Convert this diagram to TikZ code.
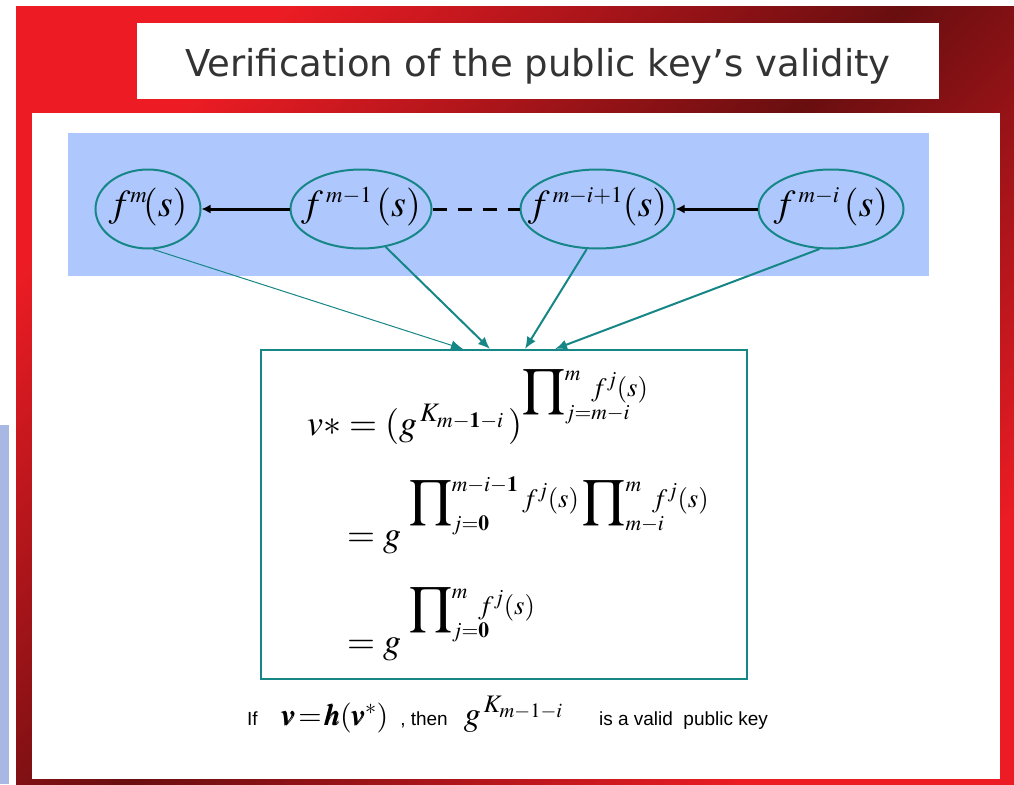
\documentclass[tikz,border=0pt]{standalone}
\usepackage{amsmath}
\usepackage{mathptmx}
\usepackage{mathtools}
\usepackage[no-math]{fontspec}
\newfontfamily\titlefont{DejaVu Sans}
\newfontfamily\notefont{Liberation Sans}
\usepackage{xcolor}
\usetikzlibrary{shapes.geometric,positioning,arrows.meta,calc}

\definecolor{frRed}{RGB}{237,28,36}
\definecolor{frDark}{RGB}{105,14,16}
\definecolor{bandblue}{RGB}{174,200,254}
\definecolor{sidelilac}{RGB}{168,184,226}
\definecolor{keyteal}{RGB}{22,134,134}
\definecolor{titlegray}{RGB}{51,51,51}

\newcommand{\ftext}[1]{\makebox[0pt]{\raisebox{-7pt}[0pt][0pt]{$#1$}}}
\newcommand{\pexp}[1]{\raisebox{34pt}{$\displaystyle#1$}}
\newcommand{\lsub}[1]{\mathrlap{\raisebox{-4pt}{$\scriptscriptstyle#1$}}}
\newcommand{\lims}[2]{\nolimits_{\lsub{#1}}^{\mathrlap{\scriptscriptstyle#2}}\hspace{22pt}}
\newcommand{\fjs}{\raisebox{5pt}{$\scriptstyle f^{j}(s)$}}

\tikzset{
  fnode/.style={ellipse, draw=keyteal, line width=2pt, inner sep=0pt,
    minimum height=79pt, font=\fontsize{38}{40}\selectfont},
  eqline/.style={anchor=base west, inner sep=0pt, font=\fontsize{36}{40}\selectfont},
  chainarrow/.style={-{Latex[length=9pt,width=9pt]}, line width=3pt},
  feed/.style={-{Latex[length=12pt,width=10pt]}, draw=keyteal, line width=2pt},
}

\begin{document}
\begin{tikzpicture}[x=1pt,y=-1pt]
\useasboundingbox (0,0) rectangle (1014,784);
% frame
\fill[white] (0,0) rectangle (1014,784);
\fill[sidelilac] (0,425) rectangle (9,784);
\shade[top color=frRed, bottom color=frRed, middle color=frDark, shading angle=45]
  (16,7) rectangle (1014,784);
\fill[white] (137,23) rectangle (939,99);
\fill[white] (32,113) rectangle (1000,779);
\fill[bandblue] (68,133) rectangle (929,276);
\node[anchor=base, inner sep=0pt, text=titlegray, font=\titlefont\fontsize{37}{40}\selectfont]
  (title) at (538,76) {Verification of the public key’s validity};%

% nodes
\node[fnode, minimum width=105pt] (fm) at (148,209) {\ftext{f^{\scriptscriptstyle m}\!(s)}};%
\node[fnode, minimum width=141pt, right=88pt of fm] (fm1) {\ftext{f^{\,\scriptscriptstyle m-1}\,(s)}};%
\node[fnode, minimum width=154pt, right=87pt of fm1] (fmi1) {\ftext{f^{\,\scriptscriptstyle m-i+1}(s)}};%
\node[fnode, minimum width=145pt, right=82pt of fmi1] (fmi) {\ftext{f^{\,\scriptscriptstyle m-i}\,(s)}};%
\node[draw=keyteal, line width=2pt, minimum width=486pt, minimum height=329pt]
  (box) at (504,514.5) {};%

% equations
\node[eqline] (eq1) at (307,435)
  {$v{*}=(g^{\,K_{\scriptscriptstyle m-\mathbf{1}-i}}\,)\pexp{\prod\lims{j=m-i}{m}\fjs}$};%
\node[eqline] (eq2) at (347,546)
  {$=g\;\pexp{\prod\nolimits_{\lsub{j=\mathbf{0}}}^{\scriptscriptstyle m-i-\mathbf{1}}\fjs\displaystyle\prod\lims{m-i}{m}\fjs}$};%
\node[eqline] (eq3) at (347,653)
  {$=g\;\pexp{\prod\lims{j=\mathbf{0}}{m}\fjs}$};%
\node[anchor=base west, inner sep=0pt, font=\notefont\fontsize{19}{22}\selectfont] (note) at (247,725)
  {If\hspace{24pt}{\fontsize{30}{32}\selectfont$\pmb{v}\!=\!\pmb{h}(\pmb{v}^{*})$}\hspace{12pt}, then\hspace{16pt}{\fontsize{34}{36}\selectfont$g^{\,K_{\scriptscriptstyle m-1-i}}$}\hspace{36pt}is a valid\ \ public key};%

% edges
\coordinate (t1) at ([xshift=203pt]box.north west);
\coordinate (t2) at ([xshift=230pt]box.north west);
\coordinate (t3) at ([xshift=265pt]box.north west);
\coordinate (t4) at ([xshift=295pt]box.north west);
\draw[chainarrow] (fm1) -- (fm);
\draw[line width=3pt, dash pattern=on 14pt off 11pt] (fm1) -- (fmi1);
\draw[chainarrow] (fmi) -- (fmi1);
\draw[feed, line width=1pt] (fm.-83) -- (t1);
\draw[feed] (fm1.-57) -- (t2);
\draw[feed] (fmi1.-105) -- (t3);
\draw[feed] (fmi.-106) -- (t4);
\end{tikzpicture}
\end{document}
